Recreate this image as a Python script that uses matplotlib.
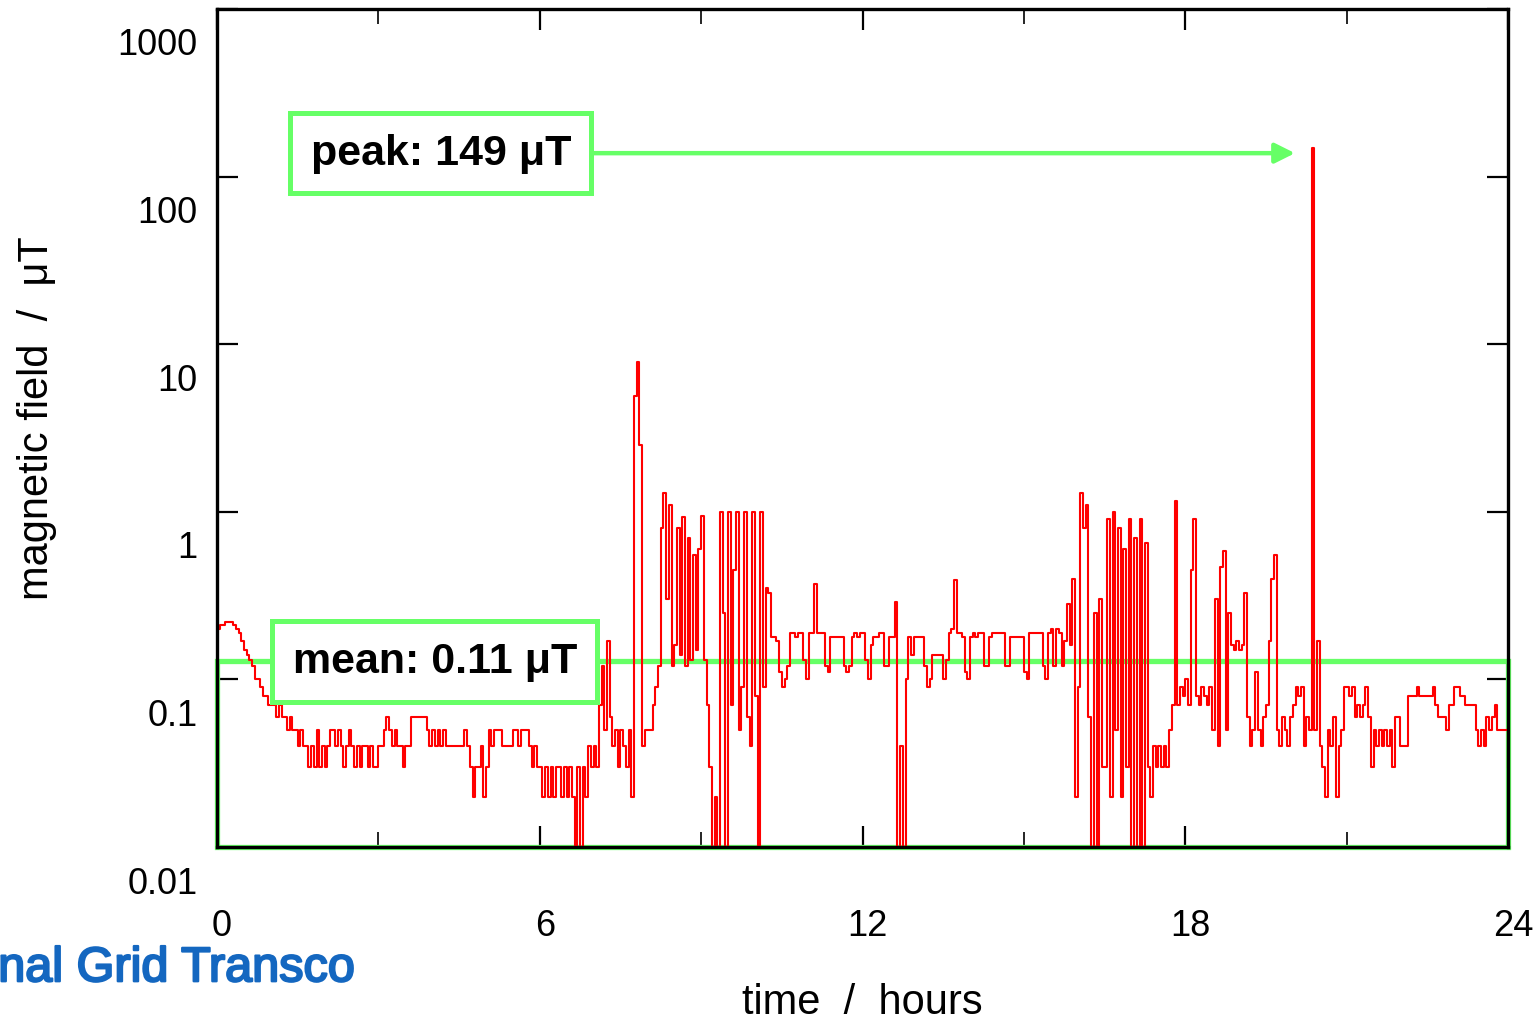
import numpy as np
import matplotlib.pyplot as plt
import matplotlib.patheffects as pe
from matplotlib.patches import Rectangle
from matplotlib.transforms import ScaledTranslation

plt.rcParams['font.family'] = ['Liberation Sans', 'DejaVu Sans']

STEP_H = 0.05  # hours between readings

# magnetic field (uT), one row per hour, 20 readings each
field_uT = [
    0.20, 0.21, 0.21, 0.22, 0.22, 0.22, 0.21, 0.20, 0.19, 0.17, 0.15, 0.14, 0.13, 0.12, 0.10, 0.10, 0.09, 0.08, 0.08, 0.07,
    0.07, 0.07, 0.06, 0.07, 0.06, 0.06, 0.05, 0.06, 0.05, 0.05, 0.04, 0.05, 0.04, 0.04, 0.03, 0.04, 0.03, 0.05, 0.03, 0.04,
    0.03, 0.04, 0.05, 0.05, 0.04, 0.05, 0.04, 0.03, 0.04, 0.05, 0.04, 0.03, 0.04, 0.03, 0.04, 0.04, 0.03, 0.04, 0.03, 0.03,
    0.04, 0.04, 0.05, 0.06, 0.05, 0.04, 0.05, 0.04, 0.04, 0.03, 0.04, 0.04, 0.06, 0.06, 0.06, 0.06, 0.06, 0.06, 0.05, 0.04,
    0.05, 0.04, 0.05, 0.04, 0.05, 0.04, 0.04, 0.04, 0.04, 0.04, 0.04, 0.04, 0.05, 0.04, 0.03, 0.02, 0.03, 0.03, 0.04, 0.02,
    0.03, 0.05, 0.04, 0.05, 0.05, 0.05, 0.04, 0.04, 0.04, 0.04, 0.05, 0.05, 0.04, 0.05, 0.05, 0.05, 0.04, 0.03, 0.04, 0.03,
    0.03, 0.02, 0.03, 0.02, 0.03, 0.02, 0.03, 0.03, 0.02, 0.03, 0.02, 0.03, 0.02, 0.01, 0.03, 0.01, 0.03, 0.02, 0.04, 0.03,
    0.04, 0.03, 0.07, 0.12, 0.05, 0.17, 0.06, 0.04, 0.05, 0.03, 0.05, 0.04, 0.03, 0.05, 0.02, 4.9, 7.8, 2.5, 0.04, 0.05,
    0.05, 0.05, 0.07, 0.09, 0.12, 0.8, 1.3, 0.3, 1.1, 0.12, 0.16, 0.8, 0.14, 0.93, 0.12, 0.7, 0.13, 0.55, 0.15, 0.6,
    0.95, 0.13, 0.07, 0.03, 0.01, 0.02, 0.01, 1.0, 0.25, 0.01, 1.0, 0.07, 0.45, 1.0, 0.05, 0.09, 1.0, 0.06, 0.04, 1.0,
    0.08, 0.01, 1.0, 0.09, 0.35, 0.33, 0.18, 0.18, 0.17, 0.11, 0.09, 0.10, 0.12, 0.19, 0.19, 0.18, 0.19, 0.19, 0.13, 0.10,
    0.19, 0.19, 0.37, 0.19, 0.19, 0.19, 0.12, 0.11, 0.18, 0.18, 0.18, 0.18, 0.18, 0.12, 0.11, 0.12, 0.18, 0.19, 0.18, 0.19,
    0.19, 0.13, 0.10, 0.16, 0.18, 0.18, 0.19, 0.19, 0.12, 0.12, 0.18, 0.18, 0.29, 0.01, 0.04, 0.01, 0.10, 0.18, 0.14, 0.18,
    0.18, 0.18, 0.18, 0.12, 0.09, 0.10, 0.14, 0.14, 0.14, 0.14, 0.10, 0.13, 0.19, 0.20, 0.39, 0.19, 0.19, 0.18, 0.11, 0.10,
    0.18, 0.19, 0.18, 0.19, 0.19, 0.12, 0.12, 0.18, 0.19, 0.19, 0.19, 0.19, 0.19, 0.12, 0.12, 0.18, 0.18, 0.18, 0.18, 0.18,
    0.11, 0.10, 0.19, 0.19, 0.19, 0.19, 0.19, 0.12, 0.10, 0.19, 0.20, 0.12, 0.20, 0.19, 0.12, 0.17, 0.28, 0.16, 0.40, 0.02,
    0.09, 1.3, 0.8, 1.1, 0.06, 0.01, 0.25, 0.01, 0.30, 0.03, 0.03, 0.9, 0.02, 1.0, 0.05, 0.8, 0.02, 0.6, 0.03, 0.9,
    0.01, 0.7, 0.01, 0.9, 0.01, 0.65, 0.03, 0.02, 0.04, 0.03, 0.04, 0.03, 0.04, 0.03, 0.05, 0.07, 1.16, 0.07, 0.09, 0.08,
    0.10, 0.07, 0.45, 0.9, 0.08, 0.07, 0.09, 0.08, 0.07, 0.09, 0.05, 0.30, 0.04, 0.47, 0.58, 0.05, 0.25, 0.16, 0.15, 0.17,
    0.15, 0.16, 0.33, 0.06, 0.04, 0.05, 0.11, 0.05, 0.04, 0.06, 0.07, 0.17, 0.40, 0.55, 0.05, 0.04, 0.06, 0.05, 0.04, 0.06,
    0.07, 0.09, 0.08, 0.09, 0.04, 0.06, 0.05, 149.0, 0.05, 0.17, 0.04, 0.03, 0.02, 0.05, 0.04, 0.06, 0.02, 0.04, 0.05, 0.09,
    0.09, 0.08, 0.09, 0.06, 0.07, 0.06, 0.07, 0.09, 0.06, 0.03, 0.05, 0.04, 0.05, 0.04, 0.05, 0.04, 0.05, 0.03, 0.06, 0.06,
    0.04, 0.04, 0.04, 0.08, 0.08, 0.08, 0.09, 0.08, 0.08, 0.08, 0.08, 0.08, 0.09, 0.07, 0.06, 0.06, 0.06, 0.05, 0.07, 0.07,
    0.09, 0.09, 0.08, 0.08, 0.07, 0.07, 0.07, 0.07, 0.05, 0.04, 0.05, 0.04, 0.06, 0.05, 0.06, 0.07, 0.05, 0.05, 0.05, 0.05,
]
last_reading = 0.03

mean_level = 0.128
mean_text = 'mean: 0.11 μT'
peak_text = 'peak: 149 μT'
peak_level = 138

x_major = [0, 6, 12, 18, 24]
x_minor = [3, 9, 15, 21]
y_ticks = [0.01, 0.1, 1, 10, 100, 1000]
y_labels = ['0.01', '0.1', '1', '10', '100', '1000']

GREEN = '#66ff66'
LOGO_BLUE = '#1467c0'

fig = plt.figure(figsize=(15.38, 10.20), dpi=100)
ax = fig.add_axes([0.1411, 0.1686, 0.8394, 0.8216])

t = np.arange(len(field_uT) + 1) * STEP_H
v = field_uT + [last_reading]

# mean box
ax.add_patch(Rectangle((0, 0.01), 24, mean_level - 0.01, fill=False, ec=GREEN, lw=3.8,
                       clip_on=False, zorder=2))
ax.step(t, v, where='post', color='red', lw=1.5, zorder=3)

ax.set_yscale('log')
ax.set_xlim(0, 24)
ax.set_ylim(0.01, 1000)

ax.set_xticks(x_major)
ax.set_xticklabels([str(x) for x in x_major])
ax.set_xticks(x_minor, minor=True)
ax.set_yticks(y_ticks)
ax.set_yticklabels(y_labels)
ax.yaxis.set_minor_locator(plt.NullLocator())

ax.tick_params(which='both', direction='in', top=True, right=True, labelsize=26)
ax.tick_params(which='major', length=15, width=1.6)
ax.tick_params(which='minor', length=11, width=1.2)
ax.tick_params(axis='x', pad=44)
ax.tick_params(axis='y', pad=14)
for s in ax.spines.values():
    s.set_linewidth(2.4)
    s.set_zorder(5)

down = ScaledTranslation(0, -0.32, fig.dpi_scale_trans)
for lab in ax.get_yticklabels():
    lab.set_transform(lab.get_transform() + down)
right = ScaledTranslation(0.05, 0, fig.dpi_scale_trans)
for lab in ax.get_xticklabels():
    lab.set_transform(lab.get_transform() + right)

ax.set_xlabel('time  /  hours', fontsize=30)
ax.set_ylabel('magnetic field  /  μT', fontsize=30)
ax.xaxis.set_label_coords(0.5, -0.161)
ax.yaxis.set_label_coords(-0.124, 0.513)

box = dict(boxstyle='square,pad=0.47', fc='white', ec=GREEN, lw=3.6)
ax.text(4.05, mean_level, mean_text, fontsize=31, fontweight='bold', ha='center',
        va='center', bbox=box, zorder=6)
ax.annotate(peak_text, xy=(20.04, peak_level), xytext=(4.16, peak_level),
            fontsize=31, fontweight='bold', ha='center', va='center', bbox=box, zorder=6,
            arrowprops=dict(arrowstyle='-|>', color=GREEN, lw=3.2, mutation_scale=30,
                            shrinkA=0, shrinkB=0))

fig.text(0.2308, 0.037, 'National Grid Transco', fontsize=35, color=LOGO_BLUE,
         ha='right', va='baseline',
         path_effects=[pe.withStroke(linewidth=1.6, foreground=LOGO_BLUE)])

fig.savefig('out.png', dpi=100)
